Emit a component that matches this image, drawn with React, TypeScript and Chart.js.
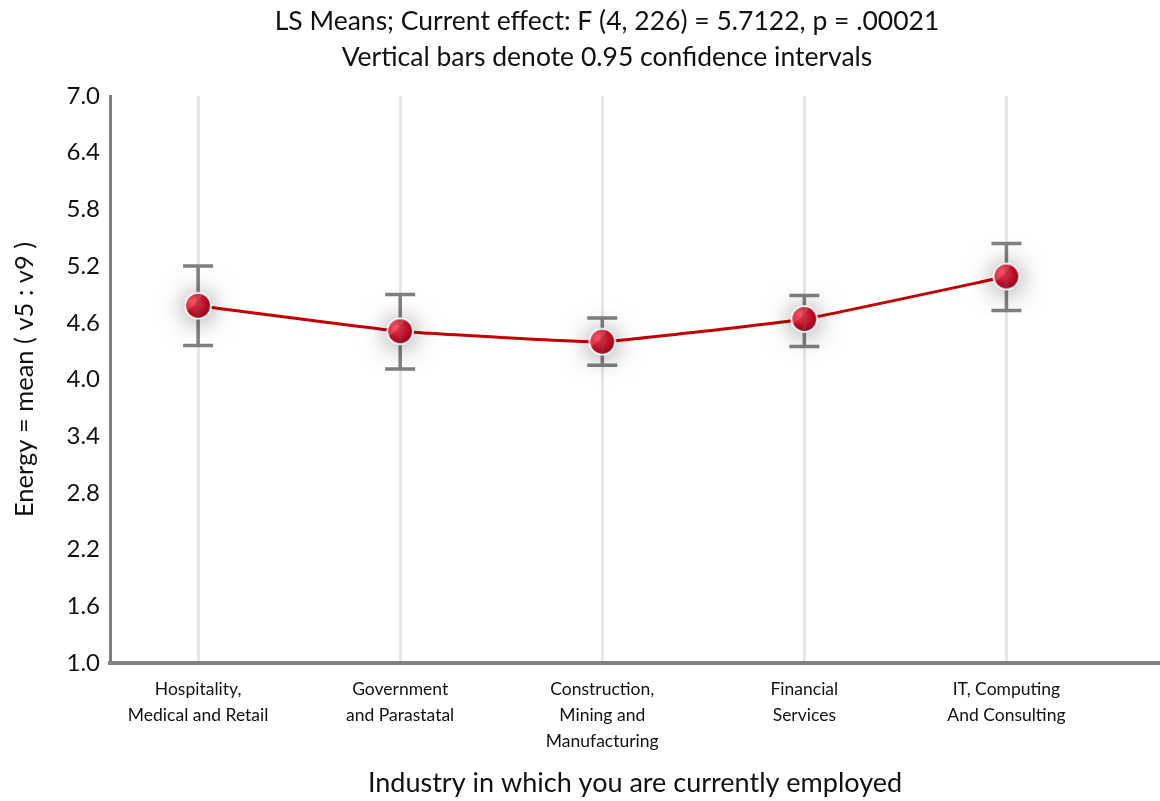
import React, { useEffect, useRef } from 'react';
import { Chart, registerables } from 'chart.js';
Chart.register(...registerables);

const categories: string[][] = [
  ['Hospitality,', 'Medical and Retail'],
  ['Government', 'and Parastatal'],
  ['Construction,', 'Mining and', 'Manufacturing'],
  ['Financial', 'Services'],
  ['IT, Computing', 'And Consulting'],
];
const positions = [0, 1, 2, 3, 4];
const means = [4.78, 4.51, 4.40, 4.64, 5.09];
const lower = [4.36, 4.11, 4.15, 4.35, 4.73];
const upper = [5.20, 4.90, 4.65, 4.89, 5.44];
const yTicks = [1.0, 1.6, 2.2, 2.8, 3.4, 4.0, 4.6, 5.2, 5.8, 6.4, 7.0];
const titleLines = [
  'LS Means; Current effect: F (4, 226) = 5.7122, p = .00021',
  'Vertical bars denote 0.95 confidence intervals',
];
const xTitle = 'Industry in which you are currently employed';
const yTitle = 'Energy = mean ( v5 : v9 )';

const FONT = 'Lato, "DejaVu Sans", sans-serif';

function makeMarker(): HTMLCanvasElement {
  const size = 90;
  const c = document.createElement('canvas');
  c.width = size;
  c.height = size;
  const ctx = c.getContext('2d')!;
  const cx = size / 2, cy = size / 2, r = 13.5;
  ctx.save();
  ctx.shadowColor = 'rgba(0,0,0,0.5)';
  ctx.shadowBlur = 26;
  ctx.shadowOffsetY = 2;
  ctx.beginPath();
  ctx.arc(cx, cy, r, 0, Math.PI * 2);
  ctx.fillStyle = '#fff';
  ctx.fill();
  ctx.restore();
  ctx.beginPath();
  ctx.arc(cx, cy, r, 0, Math.PI * 2);
  ctx.fillStyle = '#fff';
  ctx.fill();
  const ri = r - 1.6;
  const g = ctx.createRadialGradient(cx - 5, cy - 5, 1, cx, cy, ri * 1.3);
  g.addColorStop(0, '#ee3b50');
  g.addColorStop(0.55, '#c0102a');
  g.addColorStop(1, '#7a0012');
  ctx.beginPath();
  ctx.arc(cx, cy, ri, 0, Math.PI * 2);
  ctx.fillStyle = g;
  ctx.fill();
  ctx.save();
  ctx.beginPath();
  ctx.arc(cx, cy, ri, 0, Math.PI * 2);
  ctx.clip();
  ctx.beginPath();
  ctx.moveTo(cx - ri - 2, cy + ri * 0.55);
  ctx.quadraticCurveTo(cx - 1, cy - 1, cx + ri * 0.55, cy - ri - 2);
  ctx.lineTo(cx - ri - 2, cy - ri - 2);
  ctx.closePath();
  ctx.fillStyle = 'rgba(255,120,130,0.35)';
  ctx.fill();
  ctx.restore();
  return c;
}

const titlePlugin = {
  id: 'customTitle',
  afterDraw(chart: any) {
    const { ctx } = chart;
    ctx.save();
    ctx.fillStyle = '#111';
    ctx.font = `26.5px ${FONT}`;
    ctx.textAlign = 'center';
    ctx.textBaseline = 'middle';
    ctx.fillText(titleLines[0], 607, 21);
    ctx.fillText(titleLines[1], 607, 57);
    ctx.restore();
  },
};

const errorBarPlugin = {
  id: 'errorBars',
  beforeDatasetsDraw(chart: any) {
    const { ctx, scales } = chart;
    const x = scales.x, y = scales.y;
    ctx.save();
    ctx.strokeStyle = '#808080';
    ctx.lineWidth = 3.5;
    positions.forEach((p, i) => {
      const px = x.getPixelForValue(p);
      const yl = y.getPixelForValue(lower[i]);
      const yu = y.getPixelForValue(upper[i]);
      ctx.beginPath();
      ctx.moveTo(px, yl);
      ctx.lineTo(px, yu);
      ctx.moveTo(px - 15, yl);
      ctx.lineTo(px + 15, yl);
      ctx.moveTo(px - 15, yu);
      ctx.lineTo(px + 15, yu);
      ctx.stroke();
    });
    ctx.restore();
  },
  afterDatasetsDraw(chart: any) {
    const { ctx, scales } = chart;
    const x = scales.x, y = scales.y;
    ctx.save();
    ctx.strokeStyle = 'rgba(90,90,90,0.35)';
    ctx.lineWidth = 3;
    positions.forEach((p, i) => {
      const px = x.getPixelForValue(p);
      const pm = y.getPixelForValue(means[i]);
      ctx.beginPath();
      ctx.moveTo(px, pm - 11);
      ctx.lineTo(px, pm + 11);
      ctx.stroke();
    });
    ctx.restore();
  },
};

export default function App() {
  const ref = useRef<HTMLCanvasElement>(null);
  useEffect(() => {
    const marker = makeMarker();
    const chart = new Chart(ref.current!, {
      type: 'line',
      data: {
        datasets: [
          {
            data: positions.map((p, i) => ({ x: p, y: means[i] })),
            borderColor: '#c40000',
            borderWidth: 3,
            tension: 0.1,
            pointStyle: marker as any,
            pointRadius: 13,
            fill: false,
          },
        ],
      },
      plugins: [titlePlugin, errorBarPlugin],
      options: {
        animation: false,
        responsive: false,
        maintainAspectRatio: false,
        layout: { autoPadding: false, padding: { top: 96, left: 0, right: 0, bottom: 0 } },
        plugins: {
          legend: { display: false },
          tooltip: { enabled: false },
          title: { display: false },
        },
        scales: {
          x: {
            type: 'linear',
            min: -0.436,
            max: 4.76,
            afterBuildTicks: (s: any) => {
              s.ticks = positions.map((v) => ({ value: v }));
            },
            afterFit: (s: any) => {
              s.height = 138;
            },
            ticks: {
              autoSkip: false,
              maxRotation: 0,
              padding: 13,
              color: '#111',
              font: { family: FONT, size: 17.5, lineHeight: 1.5 },
              callback: (v: any) => categories[positions.indexOf(Number(v))] ?? '',
            },
            grid: { color: '#e6e6e6', lineWidth: 3, drawTicks: false },
            border: { color: '#808080', width: 4 },
            title: {
              display: true,
              text: xTitle,
              color: '#111',
              font: { family: FONT, size: 27, lineHeight: 1.2 },
              padding: { top: 0, bottom: 2 },
            },
          },
          y: {
            type: 'linear',
            min: 1,
            max: 7,
            afterBuildTicks: (s: any) => {
              s.ticks = yTicks.map((v) => ({ value: v }));
            },
            afterFit: (s: any) => {
              s.width = 110;
            },
            ticks: {
              padding: 10,
              color: '#111',
              font: { family: FONT, size: 24 },
              callback: (v: any) => Number(v).toFixed(1),
            },
            grid: { display: false, drawTicks: false },
            border: { color: '#808080', width: 3 },
            title: {
              display: true,
              text: yTitle,
              color: '#111',
              font: { family: FONT, size: 25.5, lineHeight: 1.2 },
              padding: { top: 9, bottom: 0 },
            },
          },
        },
      },
    });
    return () => chart.destroy();
  }, []);
  return (
    <div style={{ position: 'absolute', left: 0, top: 0, width: 1160, height: 801 }}>
      <canvas ref={ref} width={1160} height={801} style={{ display: 'block' }} />
    </div>
  );
}
